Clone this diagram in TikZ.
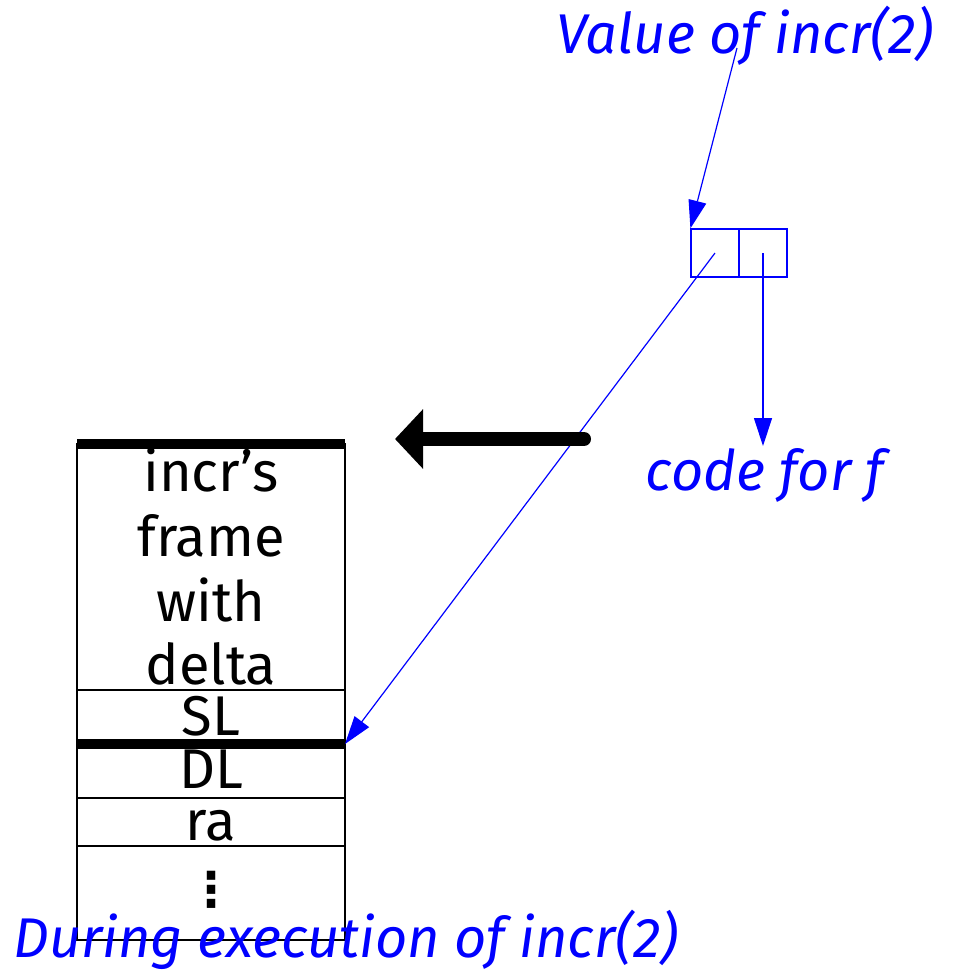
\documentclass[tikz,border=0pt]{standalone}
\usepackage{fontspec}
\setmainfont{Fira Sans}
\newfontfamily\dejavu{DejaVu Sans}
\usetikzlibrary{arrows.meta}
\tikzset{
  lbl/.style={font=\fontsize{28}{32}\selectfont, inner sep=0pt},
  bluelbl/.style={font=\fontsize{28}{32}\selectfont\itshape, text=blue, inner sep=0pt},
  thin line/.style={line width=0.75pt},
  thick sep/.style={line width=5pt},
  ptr/.style={blue, line width=0.6pt, -{Triangle[length=14pt,width=9pt]}},
  cell/.style={draw=blue, line width=0.6pt, minimum size=24pt, inner sep=0pt},
  bigarrow/.style={line width=7pt, line cap=round, -{Triangle[length=14pt,width=29pt]}}
}
\begin{document}
\begin{tikzpicture}[x=0.5pt,y=-0.5pt]
\useasboundingbox (0,0) rectangle (954,970);
% stack
\draw[thin line] (77,444) rectangle (345,940);
\draw[thin line] (77,690) -- (345,690);
\draw[thin line] (77,798) -- (345,798);
\draw[thin line] (77,846) -- (345,846);
\draw[thick sep] (77,444) -- (345,444);
\draw[thick sep] (77,744) -- (345,744);
\coordinate (dl) at (345,744);
\node[lbl] (t1) at (211,470) {incr's};
\node[lbl] (t2) at (211,536) {frame};
\node[lbl] (t3) at (211,600) {with};
\node[lbl] (t4) at (211,664) {delta};
\node[lbl] (sl) at (211,716) {SL};
\node[lbl] (dlt) at (211,769) {DL};
\node[lbl] (ra) at (211,826) {ra};
\node[font=\fontsize{24}{28}\selectfont\dejavu\bfseries, inner sep=0pt] (dots) at (211,890) {⋮};
% closure cells
\node[cell] (c1) at (715,253) {};
\node[cell] (c2) at (763,253) {};
% labels
\node[bluelbl] (val) at (745,36) {Value of incr(2)};
\node[bluelbl] (code) at (765,475) {code for f};
\node[bluelbl] (during) at (346,940) {During execution of incr(2)};
\coordinate (vs) at (737,48);
\coordinate (cf) at (763,446);
% arrows
\draw[ptr] (vs) -- (c1.north west);
\draw[ptr] (c1.center) -- (dl);
\draw[ptr] (c2.center) -- (cf);
\coordinate (ta1) at (584,439);
\coordinate (ta2) at (395,439);
\draw[bigarrow] (ta1) -- (ta2);
\end{tikzpicture}
\end{document}
